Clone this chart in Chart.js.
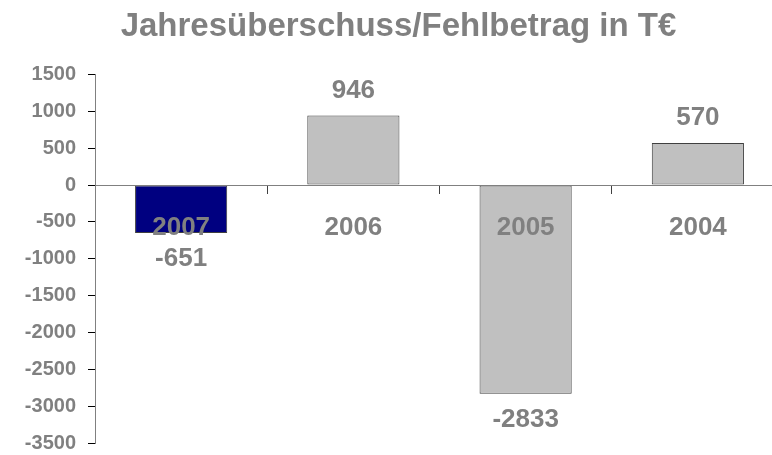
<!DOCTYPE html>
<html lang="de">
<head>
<meta charset="UTF-8">
<title>Jahresüberschuss/Fehlbetrag</title>
<script src="https://cdn.jsdelivr.net/npm/chart.js"></script>
<style>
  html, body { margin: 0; padding: 0; background: #fff; overflow: hidden; }
  #wrap { width: 797px; height: 467px; }
</style>
</head>
<body>
<div id="wrap"><canvas id="myChart" width="797" height="467"></canvas></div>
<script>
const jahre = ['2007', '2006', '2005', '2004'];
const werte = [-651, 946, -2833, 570];
const farben = ['#000080', '#c0c0c0', '#c0c0c0', '#c0c0c0'];
const yTicks = [1500, 1000, 500, 0, -500, -1000, -1500, -2000, -2500, -3000, -3500];

const grau = '#808080';
const schrift = 'Arial, "Liberation Sans", sans-serif';

// Werte ueber / unter den Balken
const wertLabels = {
  id: 'wertLabels',
  afterDraw(chart) {
    const ctx = chart.ctx;
    const meta = chart.getDatasetMeta(0);
    ctx.save();
    ctx.fillStyle = grau;
    ctx.font = 'bold 26px ' + schrift;
    ctx.textAlign = 'center';
    ctx.textBaseline = 'middle';
    meta.data.forEach((bar, i) => {
      const v = werte[i];
      const y = v >= 0 ? bar.y - 25 : bar.y + 26;
      ctx.fillText(String(v), bar.x, y);
    });
    ctx.restore();
  }
};

new Chart(document.getElementById('myChart'), {
  type: 'bar',
  data: {
    labels: jahre,
    datasets: [{
      data: werte,
      backgroundColor: farben,
      borderColor: '#404040',
      borderWidth: 1,
      borderSkipped: false,
      categoryPercentage: 1,
      barPercentage: 0.535
    }]
  },
  options: {
    responsive: false,
    animation: false,
    layout: { padding: { left: 13, right: 13, top: 0, bottom: 0 } },
    plugins: {
      legend: { display: false },
      tooltip: { enabled: false },
      title: {
        display: true,
        text: 'Jahresüberschuss/Fehlbetrag in T€',
        color: grau,
        font: { family: schrift, size: 33, weight: 'bold' },
        padding: { top: 7, bottom: 28 }
      }
    },
    scales: {
      x: {
        position: { y: 0 },
        grid: {
          offset: true,
          drawOnChartArea: false,
          tickLength: 8,
          color: '#404040'
        },
        border: { color: grau, width: 1, z: 1 },
        ticks: {
          z: 1,
          color: grau,
          font: { family: schrift, size: 26, weight: 'bold' },
          padding: 19
        }
      },
      y: {
        min: -3500,
        max: 1500,
        afterFit(s) { s.width = 82; },
        afterBuildTicks(s) { s.ticks = yTicks.map(v => ({ value: v })); },
        grid: {
          drawOnChartArea: false,
          tickLength: 7,
          color: '#000'
        },
        border: { color: grau, width: 1 },
        ticks: {
          color: grau,
          font: { family: schrift, size: 20, weight: 'bold' },
          padding: 12,
          callback: v => String(v)
        }
      }
    }
  },
  plugins: [wertLabels]
});
</script>
</body>
</html>
